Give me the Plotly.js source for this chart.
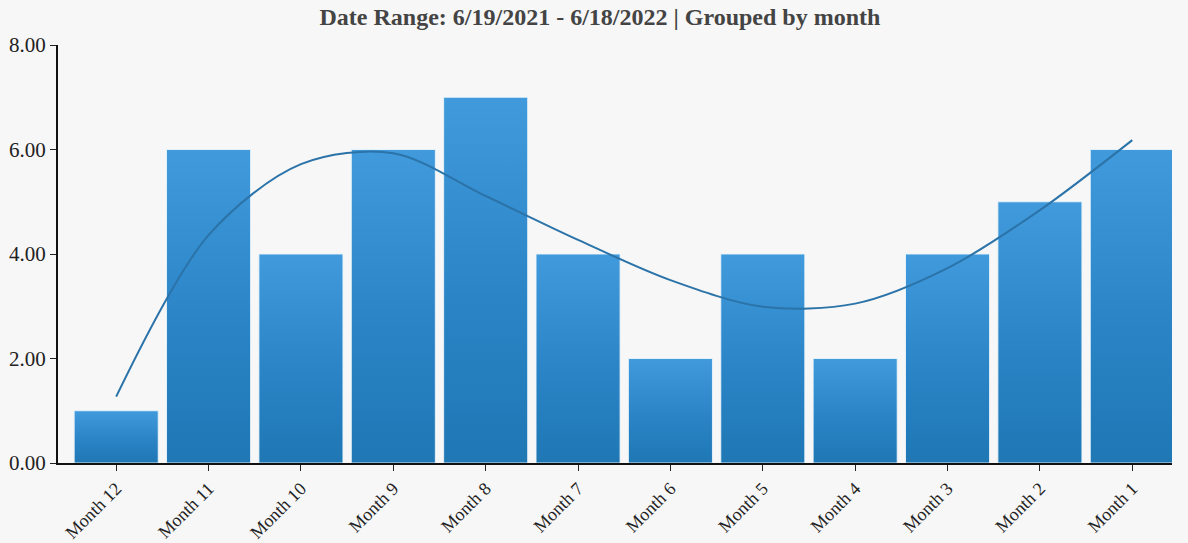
<!DOCTYPE html>
<html>
<head>
<meta charset="utf-8">
<script src="https://cdn.plot.ly/plotly-3.0.1.min.js"></script>
<style>
  html, body { margin: 0; padding: 0; background: #f7f7f7; }
  #chart { width: 1188px; height: 543px; }
</style>
</head>
<body>
<div id="chart"></div>
<script>
// Monthly counts, oldest month first
const months = ["Month 12", "Month 11", "Month 10", "Month 9", "Month 8", "Month 7",
                "Month 6", "Month 5", "Month 4", "Month 3", "Month 2", "Month 1"];
const counts = [1, 6, 4, 6, 7, 4, 2, 4, 2, 4, 5, 6];
// Smoothed trend values at each month
const trend = [1.27, 4.36, 5.72, 5.93, 5.11, 4.27, 3.50, 2.99, 3.05, 3.73, 4.84, 6.18];
const yTicks = [0, 2, 4, 6, 8];

const serif = "Liberation Serif, Times New Roman, serif";

const bars = {
  type: "bar",
  x: months,
  y: counts,
  marker: { color: "#2a84c6", line: { color: "rgba(235,245,252,0.9)", width: 1 } },
  hoverinfo: "x+y"
};

const trendLine = {
  type: "scatter",
  mode: "lines",
  x: months,
  y: trend,
  line: { color: "#2b73a8", width: 2, shape: "spline", smoothing: 0.9 },
  hoverinfo: "skip"
};

const layout = {
  width: 1188,
  height: 543,
  paper_bgcolor: "#f7f7f7",
  plot_bgcolor: "#f7f7f7",
  margin: { l: 58, r: 16, t: 45, b: 80 },
  showlegend: false,
  bargap: 0.09,
  title: {
    text: "<b>Date Range: 6/19/2021 - 6/18/2022 | Grouped by month</b>",
    font: { family: serif, size: 24, color: "#444444" },
    x: 0.505, xanchor: "center", y: 0.985, yanchor: "top"
  },
  xaxis: {
    type: "category",
    range: [-0.63, 11.43],
    tickangle: -45,
    ticks: "outside", ticklen: 6, tickcolor: "#222", tickwidth: 1,
    showline: true, linecolor: "#111", linewidth: 2,
    showgrid: false, zeroline: false,
    tickfont: { family: serif, size: 18, color: "#222" }
  },
  yaxis: {
    range: [0, 8],
    tickvals: yTicks,
    tickformat: ".2f",
    ticks: "outside", ticklen: 6, tickcolor: "#222", tickwidth: 1,
    showline: true, linecolor: "#111", linewidth: 2,
    showgrid: false, zeroline: false,
    tickfont: { family: serif, size: 21, color: "#222" }
  }
};

Plotly.newPlot("chart", [bars, trendLine], layout, { displayModeBar: false, staticPlot: true })
  .then(function (gd) {
    // Vertical gradient fill on each bar: lighter at the top, deeper at the base
    const svgNS = "http://www.w3.org/2000/svg";
    const svg = gd.querySelector("svg.main-svg");
    let defs = svg.querySelector("defs");
    if (!defs) { defs = document.createElementNS(svgNS, "defs"); svg.insertBefore(defs, svg.firstChild); }
    const grad = document.createElementNS(svgNS, "linearGradient");
    grad.setAttribute("id", "barGradient");
    grad.setAttribute("x1", "0"); grad.setAttribute("y1", "0");
    grad.setAttribute("x2", "0"); grad.setAttribute("y2", "1");
    [["0%", "#409adb"], ["55%", "#2a84c6"], ["100%", "#1f77b4"]].forEach(function (s) {
      const stop = document.createElementNS(svgNS, "stop");
      stop.setAttribute("offset", s[0]);
      stop.setAttribute("stop-color", s[1]);
      grad.appendChild(stop);
    });
    defs.appendChild(grad);
    gd.querySelectorAll(".bars .point path").forEach(function (p) {
      p.style.fill = "url(#barGradient)";
    });
  });
</script>
</body>
</html>
